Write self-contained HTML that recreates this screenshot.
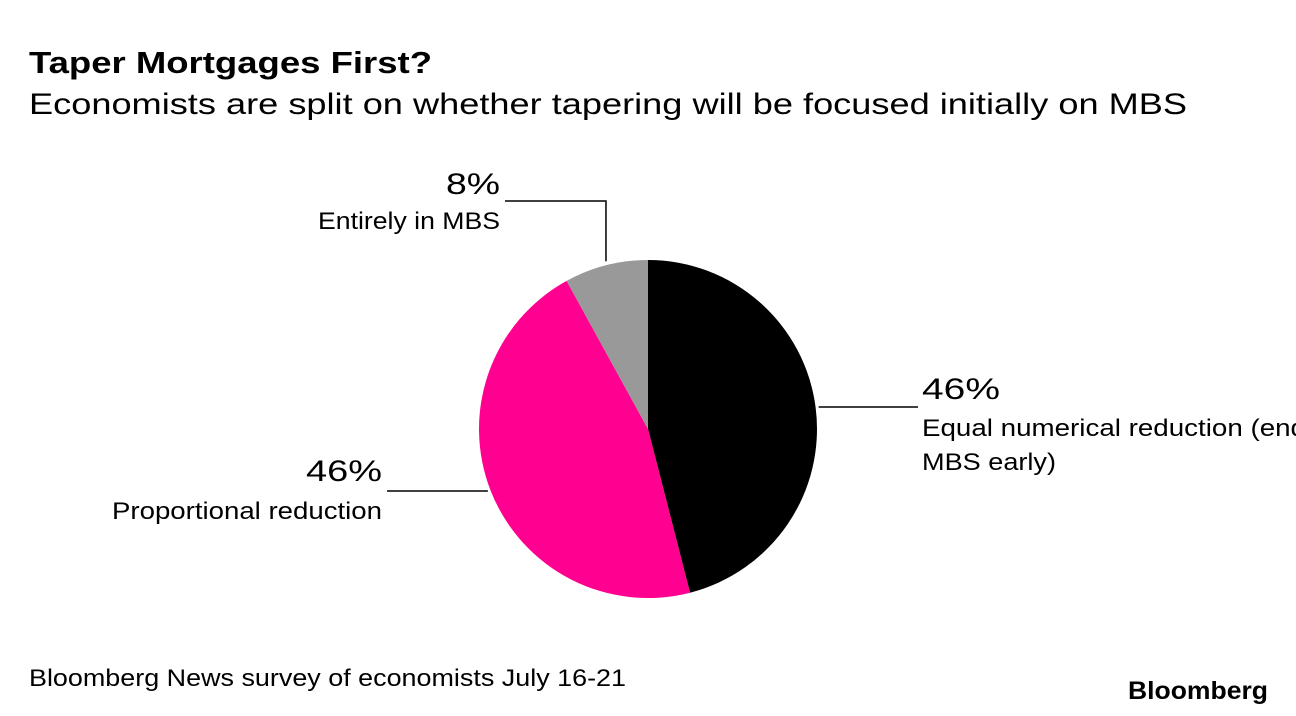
<!DOCTYPE html>
<html><head><meta charset="utf-8"><style>
body{margin:0;width:1296px;height:716px;background:#fff;overflow:hidden;font-family:"Liberation Sans",sans-serif;}
</style></head><body>
<svg width="1296" height="716" style="position:absolute;left:0;top:0">
<text x="29" y="73" font-size="31" font-weight="bold" fill="#000" textLength="403" lengthAdjust="spacingAndGlyphs">Taper Mortgages First?</text>
<text x="29" y="114" font-size="30" fill="#000" textLength="1158" lengthAdjust="spacingAndGlyphs">Economists are split on whether tapering will be focused initially on MBS</text>
<g id="pie"></g>
<g id="labels" font-size="24" fill="#000"></g>
<text x="29" y="686" font-size="24" fill="#000" textLength="597" lengthAdjust="spacingAndGlyphs">Bloomberg News survey of economists July 16-21</text>
<text x="1128" y="699" font-size="25" font-weight="bold" textLength="140" lengthAdjust="spacingAndGlyphs" fill="#000">Bloomberg</text>
</svg>
<script>
const categories=["Equal numerical reduction (end MBS early)","Proportional reduction","Entirely in MBS"];
const values=[46,46,8];
const colors=["#000000","#ff0090","#999999"];
const cx=648,cy=429,r=169;
const ns="http://www.w3.org/2000/svg";
const pie=document.getElementById('pie');
const total=values.reduce((a,b)=>a+b,0);
let acc=0;
const mids=[];
values.forEach((v,i)=>{
  const a0=acc/total*2*Math.PI; acc+=v; const a1=acc/total*2*Math.PI;
  const x0=cx+r*Math.sin(a0),y0=cy-r*Math.cos(a0),x1=cx+r*Math.sin(a1),y1=cy-r*Math.cos(a1);
  const p=document.createElementNS(ns,'path');
  p.setAttribute('d',`M${cx},${cy}L${x0},${y0}A${r},${r} 0 ${(a1-a0)>Math.PI?1:0} 1 ${x1},${y1}Z`);
  p.setAttribute('fill',colors[i]);
  
  
  pie.appendChild(p);
  mids.push((a0+a1)/2);
});
const lab=document.getElementById('labels');
function t(x,y,s,size,anchor,name,len){const e=document.createElementNS(ns,'text');e.setAttribute('x',x);e.setAttribute('y',y);e.setAttribute('font-size',size);e.setAttribute('text-anchor',anchor);e.textContent=s;
if(len){e.setAttribute('textLength',len);e.setAttribute('lengthAdjust','spacingAndGlyphs');}


lab.appendChild(e);}
function l(d,name){const e=document.createElementNS(ns,'path');e.setAttribute('d',d);e.setAttribute('stroke','#000');e.setAttribute('stroke-width','1.5');e.setAttribute('fill','none');


lab.appendChild(e);}
// right label (slice 0)
l(`M${cx+r*Math.sin(mids[0])+3},407H918`,'leader-equal');
t(922,399,values[0]+'%',30,'start','value-equal',78);
t(922,436,'Equal numerical reduction (end',24,'start','label-equal',384);
t(922,470,'MBS early)',24,'start','label-equal-2',134);
// left label (slice 1)
l(`M387,491H${cx+r*Math.sin(mids[1])-3}`,'leader-proportional');
t(382,481,values[1]+'%',30,'end','value-proportional',76);
t(382,519,categories[1],24,'end','label-proportional',270);
// top label (slice 2)
const tx=cx+r*Math.sin(mids[2]);
l(`M505,201H${tx}V${cy-r*Math.cos(mids[2])-4}`,'leader-mbs');
t(500,194,values[2]+'%',30,'end','value-mbs',54);
t(500,229,categories[2],24,'end','label-mbs',182);
</script>
</body></html>
